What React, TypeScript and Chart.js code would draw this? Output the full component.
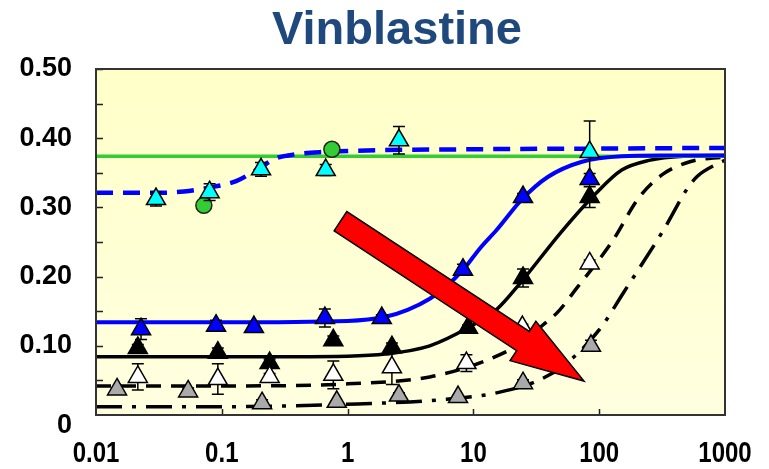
import React, { useEffect, useRef } from "react";
import { Chart, registerables } from "chart.js";

Chart.register(...registerables);

const TITLE = "Vinblastine";
const X_TICKS = [0.01, 0.1, 1, 10, 100, 1000];
const X_LABELS = ["0.01", "0.1", "1", "10", "100", "1000"];
const Y_TICKS = [0, 0.1, 0.2, 0.3, 0.4, 0.5];

// ---- marker series (x, y, error) ----
const cyanX = [0.03, 0.08, 0.205, 0.67, 2.56, 84];
const cyanY = [0.312, 0.322, 0.355, 0.354, 0.397, 0.38];
const cyanErr = [0.01, 0.012, 0.01, 0.008, 0.02, 0.045];

const greenX = [0.072, 0.75];
const greenY = [0.303, 0.384];

const blueX = [0.0228, 0.09, 0.18, 0.66, 1.87, 8.26, 24.8, 84];
const blueY = [0.124, 0.129, 0.127, 0.14, 0.14, 0.21, 0.315, 0.341];
const blueErr = [0.015, 0.008, 0.005, 0.013, 0.005, 0.008, 0.005, 0.008];

const blackX = [0.0215, 0.093, 0.24, 0.77, 2.25, 9.06, 24.8, 84];
const blackY = [0.097, 0.09, 0.075, 0.108, 0.098, 0.126, 0.198, 0.315];
const blackErr = [0.005, 0.007, 0.006, 0.006, 0.006, 0.004, 0.013, 0.015];

const whiteX = [0.0215, 0.093, 0.24, 0.77, 2.25, 8.8, 24.5, 84];
const whiteY = [0.055, 0.052, 0.055, 0.058, 0.069, 0.075, 0.127, 0.219];
const whiteErr = [0.019, 0.022, 0.005, 0.02, 0.025, 0.012, 0.004, 0.005];

const grayX = [0.0147, 0.054, 0.209, 0.82, 2.56, 7.55, 24.8, 86];
const grayY = [0.037, 0.034, 0.017, 0.019, 0.028, 0.026, 0.046, 0.1];
const grayErr = [0, 0.005, 0.005, 0, 0.004, 0, 0.005, 0.008];

// ---- fitted curves ----
const greenLineX = [0.01, 1000];
const greenLineY = [0.374, 0.374];

const blueDashX = [0.01, 0.03, 0.05, 0.076, 0.13, 0.2, 0.27, 0.4, 0.63, 1.2, 10, 100, 1000];
const blueDashY = [0.321, 0.321, 0.323, 0.328, 0.338, 0.357, 0.371, 0.377, 0.38, 0.382, 0.384, 0.385, 0.386];

const blueSolidX = [0.01, 0.1, 1, 2, 3, 4.5, 6, 8.3, 11.3, 15.4, 24.4, 39, 73, 151, 300, 1000];
const blueSolidY = [0.134, 0.134, 0.136, 0.142, 0.152, 0.168, 0.185, 0.21, 0.241, 0.268, 0.312, 0.344, 0.366, 0.374, 0.375, 0.375];

const blackSolidX = [0.01, 0.1, 1, 2, 4.5, 9.06, 15.4, 23.4, 49.7, 92.7, 151, 249, 464, 1000];
const blackSolidY = [0.084, 0.084, 0.085, 0.088, 0.1, 0.126, 0.153, 0.19, 0.264, 0.319, 0.354, 0.368, 0.374, 0.375];

const blackDashX = [0.01, 0.1, 1, 4.5, 13.1, 24.5, 35.7, 47, 66.7, 126, 207, 321, 525, 1000];
const blackDashY = [0.042, 0.042, 0.045, 0.055, 0.08, 0.105, 0.13, 0.149, 0.184, 0.25, 0.314, 0.348, 0.366, 0.373];

const dashDotX = [0.01, 0.1, 1.2, 5.6, 16.2, 35.7, 58.6, 101, 155, 331, 501, 603, 870, 1000];
const dashDotY = [0.012, 0.012, 0.016, 0.022, 0.033, 0.053, 0.079, 0.124, 0.176, 0.27, 0.327, 0.345, 0.363, 0.368];

// ---- red arrow (tail, tip) in data units ----
const arrowX = [0.878, 75.7];
const arrowY = [0.28, 0.049];

const pts = (xs: number[], ys: number[]) => xs.map((x, i) => ({ x, y: ys[i] }));

const decoPlugin = {
  id: "deco",
  beforeDraw(chart: any) {
    const { ctx, chartArea: a } = chart;
    ctx.save();
    const g = ctx.createLinearGradient(0, a.top, 0, a.bottom);
    g.addColorStop(0, "#FFFFC8");
    g.addColorStop(1, "#FFFFE0");
    ctx.fillStyle = g;
    ctx.fillRect(a.left, a.top, a.right - a.left, a.bottom - a.top);
    ctx.restore();
  },
  beforeDatasetDraw(chart: any, args: any) {
    const ds = chart.data.datasets[args.index];
    if (!ds.errs) return;
    const { ctx, scales } = chart;
    const xs = scales.x, ys = scales.y;
    ctx.save();
    ctx.strokeStyle = "#000";
    ctx.lineWidth = 1.5;
    ds.data.forEach((p: any, i: number) => {
      const e = ds.errs[i];
      if (!e) return;
      const px = xs.getPixelForValue(p.x);
      const y1 = ys.getPixelForValue(p.y + e);
      const y2 = ys.getPixelForValue(p.y - e);
      ctx.beginPath();
      ctx.moveTo(px, y1);
      ctx.lineTo(px, y2);
      ctx.moveTo(px - 6, y1);
      ctx.lineTo(px + 6, y1);
      ctx.moveTo(px - 6, y2);
      ctx.lineTo(px + 6, y2);
      ctx.stroke();
    });
    ctx.restore();
  },
  afterDatasetsDraw(chart: any) {
    const { ctx, scales } = chart;
    const x0 = scales.x.getPixelForValue(arrowX[0]);
    const y0 = scales.y.getPixelForValue(arrowY[0]);
    const x1 = scales.x.getPixelForValue(arrowX[1]);
    const y1 = scales.y.getPixelForValue(arrowY[1]);
    const dx = x1 - x0, dy = y1 - y0;
    const len = Math.hypot(dx, dy);
    const ux = dx / len, uy = dy / len;
    const nx = -uy, ny = ux;
    const shaftW = 23, headW = 47, headL = 73;
    const bx = x1 - ux * headL, by = y1 - uy * headL;
    ctx.save();
    ctx.beginPath();
    ctx.moveTo(x0 + nx * shaftW / 2, y0 + ny * shaftW / 2);
    ctx.lineTo(bx + nx * shaftW / 2, by + ny * shaftW / 2);
    ctx.lineTo(bx + nx * headW / 2, by + ny * headW / 2);
    ctx.lineTo(x1, y1);
    ctx.lineTo(bx - nx * headW / 2, by - ny * headW / 2);
    ctx.lineTo(bx - nx * shaftW / 2, by - ny * shaftW / 2);
    ctx.lineTo(x0 - nx * shaftW / 2, y0 - ny * shaftW / 2);
    ctx.closePath();
    ctx.fillStyle = "#FF0000";
    ctx.fill();
    ctx.lineWidth = 1.5;
    ctx.strokeStyle = "#000";
    ctx.lineJoin = "miter";
    ctx.stroke();
    ctx.restore();
  },
  afterDraw(chart: any) {
    const { ctx, chartArea: a, scales } = chart;
    ctx.save();
    // inner ticks
    ctx.strokeStyle = "#222";
    ctx.lineWidth = 1.5;
    ctx.beginPath();
    for (let v = 0.05; v < 0.5; v += 0.05) {
      const py = Math.round(scales.y.getPixelForValue(v)) + 0.5;
      ctx.moveTo(a.left, py);
      ctx.lineTo(a.left + 7, py);
    }
    X_TICKS.slice(1, -1).forEach((v) => {
      const px = Math.round(scales.x.getPixelForValue(v)) + 0.5;
      ctx.moveTo(px, a.bottom);
      ctx.lineTo(px, a.bottom - 6);
    });
    ctx.stroke();
    // border
    ctx.strokeStyle = "#333";
    ctx.lineWidth = 2;
    ctx.strokeRect(a.left, a.top, a.right - a.left, a.bottom - a.top);
    // x tick labels (condensed bold)
    ctx.fillStyle = "#000";
    ctx.font = "bold 30px 'Liberation Sans', Arial, sans-serif";
    ctx.textAlign = "center";
    ctx.textBaseline = "alphabetic";
    X_TICKS.forEach((v, i) => {
      const px = scales.x.getPixelForValue(v);
      ctx.save();
      ctx.translate(px, a.bottom + 47);
      ctx.scale(0.8, 1);
      ctx.fillText(X_LABELS[i], 0, 0);
      ctx.restore();
    });
    // title
    ctx.fillStyle = "#1F497D";
    ctx.font = "bold 47px 'Liberation Sans', Arial, sans-serif";
    ctx.textAlign = "center";
    ctx.fillText(TITLE, 397, 44);
    ctx.restore();
  },
};

const triangle = (data: any, fill: string, errs: number[], r = 11) => ({
  data,
  errs,
  showLine: false,
  pointStyle: "triangle",
  pointRadius: r,
  pointBackgroundColor: fill,
  pointBorderColor: "#000",
  pointBorderWidth: 1.5,
  backgroundColor: fill,
  borderColor: "#000",
});

const curve = (data: any, color: string, width: number, dash: number[]) => ({
  data,
  showLine: true,
  pointRadius: 0,
  borderColor: color,
  borderWidth: width,
  borderDash: dash,
  cubicInterpolationMode: "monotone",
  fill: false,
});

export default function App() {
  const ref = useRef<HTMLCanvasElement>(null);
  useEffect(() => {
    if (!ref.current) return;
    const chart = new Chart(ref.current, {
      type: "scatter",
      data: {
        datasets: [
          triangle(pts(grayX, grayY), "#AAAAAA", grayErr),
          triangle(pts(whiteX, whiteY), "#FFFFFF", whiteErr),
          triangle(pts(blackX, blackY), "#000000", blackErr),
          triangle(pts(blueX, blueY), "#0000FF", blueErr),
          triangle(pts(cyanX, cyanY), "#00FFFF", cyanErr),
          {
            data: pts(greenX, greenY),
            showLine: false,
            pointStyle: "circle",
            pointRadius: 8,
            pointBackgroundColor: "#33CC33",
            pointBorderColor: "#222",
            pointBorderWidth: 1.5,
          },
          curve(pts(blueSolidX, blueSolidY), "#0000FF", 4, []),
          curve(pts(blueDashX, blueDashY), "#0000FF", 4.5, [17, 10]),
          curve(pts(greenLineX, greenLineY), "#33CC33", 3.5, []),
          curve(pts(blackSolidX, blackSolidY), "#000000", 3.5, []),
          curve(pts(blackDashX, blackDashY), "#000000", 3.5, [15, 10]),
          curve(pts(dashDotX, dashDotY), "#000000", 3.5, [26, 10, 4, 10]),
        ] as any,
      },
      options: {
        animation: false,
        responsive: false,
        devicePixelRatio: 1,
        layout: { padding: { left: 0, right: 44, top: 69, bottom: 0 } },
        plugins: { legend: { display: false }, tooltip: { enabled: false }, title: { display: false } },
        scales: {
          x: {
            type: "logarithmic",
            min: 0.01,
            max: 1000,
            grid: { display: false, drawTicks: false },
            border: { display: false },
            afterBuildTicks: (s: any) => {
              s.ticks = X_TICKS.map((v) => ({ value: v }));
            },
            afterFit: (s: any) => {
              s.height = 54;
            },
            ticks: { display: false },
          },
          y: {
            type: "linear",
            min: 0,
            max: 0.5,
            grid: { display: false, drawTicks: false },
            border: { display: false },
            afterBuildTicks: (s: any) => {
              s.ticks = Y_TICKS.map((v) => ({ value: v }));
            },
            afterFit: (s: any) => {
              s.width = 96;
            },
            ticks: {
              padding: 24,
              color: "#000",
              font: { family: "'Liberation Sans', Arial, sans-serif", size: 27, weight: "bold", lineHeight: 0.8 },
              callback: (v: any) => (v === 0 ? ["", "0"] : Number(v).toFixed(2)),
            },
          },
        },
      },
      plugins: [decoPlugin],
    } as any);
    return () => chart.destroy();
  }, []);
  return (
    <div style={{ position: "fixed", left: 0, top: 0, width: 769, height: 469, background: "#fff" }}>
      <canvas ref={ref} width={769} height={469} style={{ display: "block", width: 769, height: 469 }} />
    </div>
  );
}
